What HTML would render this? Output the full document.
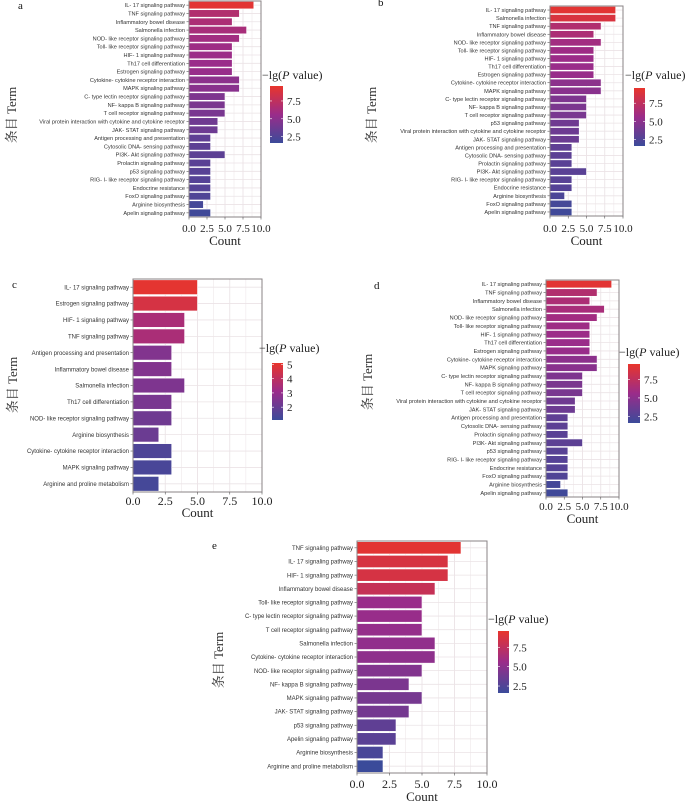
<!DOCTYPE html>
<html><head><meta charset="utf-8">
<style>
html,body{margin:0;padding:0;background:#fff;}
svg{display:block;}
</style></head>
<body>
<svg id="chart" width="700" height="802" viewBox="0 0 700 802" xmlns="http://www.w3.org/2000/svg">
<defs>
<linearGradient id="cbgrad" x1="0" y1="1" x2="0" y2="0">
<stop offset="0" stop-color="#3b4b9a"/>
<stop offset="0.5" stop-color="#9a2c8a"/>
<stop offset="1" stop-color="#e8352c"/>
</linearGradient>
</defs>
</svg>
<script>
// ---- data ----
const termsA = ["IL- 17 signaling pathway","TNF signaling pathway","Inflammatory bowel disease","Salmonella infection","NOD- like receptor signaling pathway","Toll- like receptor signaling pathway","HIF- 1 signaling pathway","Th17 cell differentiation","Estrogen signaling pathway","Cytokine- cytokine receptor interaction","MAPK signaling pathway","C- type lectin receptor signaling pathway","NF- kappa B signaling pathway","T cell receptor signaling pathway","Viral protein interaction with cytokine and cytokine receptor","JAK- STAT signaling pathway","Antigen processing and presentation","Cytosolic DNA- sensing pathway","PI3K- Akt signaling pathway","Prolactin signaling pathway","p53 signaling pathway","RIG- I- like receptor signaling pathway","Endocrine resistance","FoxO signaling pathway","Arginine biosynthesis","Apelin signaling pathway"];
const countsA = [9,7,6,8,7,6,6,6,6,7,7,5,5,5,4,4,3,3,5,3,3,3,3,3,2,3];
const pvalA = [9.3,6.8,6.5,6.3,6.0,5.8,5.7,5.6,5.5,5.0,4.9,4.4,4.3,4.2,3.8,3.7,3.1,3.0,3.0,2.9,2.8,2.7,2.7,2.5,2.0,1.8];

const termsB = ["IL- 17 signaling pathway","Salmonella infection","TNF signaling pathway","Inflammatory bowel disease","NOD- like receptor signaling pathway","Toll- like receptor signaling pathway","HIF- 1 signaling pathway","Th17 cell differentiation","Estrogen signaling pathway","Cytokine- cytokine receptor interaction","MAPK signaling pathway","C- type lectin receptor signaling pathway","NF- kappa B signaling pathway","T cell receptor signaling pathway","p53 signaling pathway","Viral protein interaction with cytokine and cytokine receptor","JAK- STAT signaling pathway","Antigen processing and presentation","Cytosolic DNA- sensing pathway","Prolactin signaling pathway","PI3K- Akt signaling pathway","RIG- I- like receptor signaling pathway","Endocrine resistance","Arginine biosynthesis","FoxO signaling pathway","Apelin signaling pathway"];
const countsB = [9,9,7,6,7,6,6,6,6,7,7,5,5,5,4,4,4,3,3,3,5,3,3,2,3,3];
const pvalB = [9.3,8.8,6.8,6.5,6.0,5.8,5.7,5.6,5.5,5.0,4.9,4.4,4.3,4.2,3.8,3.7,3.6,3.1,3.0,2.9,2.9,2.8,2.7,2.3,2.0,1.8];

const termsC = ["IL- 17 signaling pathway","Estrogen signaling pathway","HIF- 1 signaling pathway","TNF signaling pathway","Antigen processing and presentation","Inflammatory bowel disease","Salmonella infection","Th17 cell differentiation","NOD- like receptor signaling pathway","Arginine biosynthesis","Cytokine- cytokine receptor interaction","MAPK signaling pathway","Arginine and proline metabolism"];
const countsC = [5,5,4,4,3,3,4,3,3,2,3,3,2];
const pvalC = [5.0,4.6,3.5,3.5,2.6,2.6,2.5,2.4,2.2,2.1,1.5,1.4,1.3];

const termsD = ["IL- 17 signaling pathway","TNF signaling pathway","Inflammatory bowel disease","Salmonella infection","NOD- like receptor signaling pathway","Toll- like receptor signaling pathway","HIF- 1 signaling pathway","Th17 cell differentiation","Estrogen signaling pathway","Cytokine- cytokine receptor interaction","MAPK signaling pathway","C- type lectin receptor signaling pathway","NF- kappa B signaling pathway","T cell receptor signaling pathway","Viral protein interaction with cytokine and cytokine receptor","JAK- STAT signaling pathway","Antigen processing and presentation","Cytosolic DNA- sensing pathway","Prolactin signaling pathway","PI3K- Akt signaling pathway","p53 signaling pathway","RIG- I- like receptor signaling pathway","Endocrine resistance","FoxO signaling pathway","Arginine biosynthesis","Apelin signaling pathway"];
const countsD = [9,7,6,8,7,6,6,6,6,7,7,5,5,5,4,4,3,3,3,5,3,3,3,3,2,3];
const pvalD = [9.3,6.8,6.5,6.3,6.0,5.8,5.7,5.6,5.5,5.0,4.9,4.4,4.3,4.2,3.8,3.7,3.1,3.0,2.9,3.0,2.8,2.7,2.7,2.5,2.0,1.8];

const termsE = ["TNF signaling pathway","IL- 17 signaling pathway","HIF- 1 signaling pathway","Inflammatory bowel disease","Toll- like receptor signaling pathway","C- type lectin receptor signaling pathway","T cell receptor signaling pathway","Salmonella infection","Cytokine- cytokine receptor interaction","NOD- like receptor signaling pathway","NF- kappa B signaling pathway","MAPK signaling pathway","JAK- STAT signaling pathway","p53 signaling pathway","Apelin signaling pathway","Arginine biosynthesis","Arginine and proline metabolism"];
const countsE = [8,7,7,6,5,5,5,6,6,5,4,5,4,3,3,2,2];
const pvalE = [9.3,8.7,8.6,7.8,5.6,5.5,5.4,5.2,5.1,4.6,4.3,4.1,4.0,3.1,2.9,2.2,1.6];

const xTicks = [0, 2.5, 5, 7.5, 10];
const xTickLabels = ["0.0","2.5","5.0","7.5","10.0"];
const cbTicksBig = [2.5, 5.0, 7.5];
const cbTickLabelsBig = ["2.5","5.0","7.5"];
const cbTicksC = [2, 3, 4, 5];
const cbTickLabelsC = ["2","3","4","5"];

// ---- drawing ----
const NS = "http://www.w3.org/2000/svg";
const svg = document.getElementById("chart");
function mk(tag, attrs, parent){
  const e = document.createElementNS(NS, tag);
  for (const k in attrs) e.setAttribute(k, attrs[k]);
  (parent||svg).appendChild(e);
  return e;
}
function lerp(a,b,t){return a+(b-a)*t;}
function hex(c){return [parseInt(c.substr(1,2),16),parseInt(c.substr(3,2),16),parseInt(c.substr(5,2),16)];}
const cLow=hex("#3b4b9a"), cMid=hex("#9a2c8a"), cHigh=hex("#e8352c");
function colorFor(v, vmin, vmax){
  let t=(v-vmin)/(vmax-vmin); t=Math.max(0,Math.min(1,t));
  let a,b,u;
  if(t<0.5){a=cLow;b=cMid;u=t/0.5;}else{a=cMid;b=cHigh;u=(t-0.5)/0.5;}
  return "rgb("+Math.round(lerp(a[0],b[0],u))+","+Math.round(lerp(a[1],b[1],u))+","+Math.round(lerp(a[2],b[2],u))+")";
}

function drawPanel(p){
  const g = mk("g", {});
  
  
  const xScale = v => p.x0 + (v/10)*(p.x1-p.x0);
  const n = p.terms.length;
  const band = (p.y1-p.y0)/n;
  const yPos = i => p.y0 + i*band;
  // background + grid
  mk("rect",{x:p.x0,y:p.y0,width:p.x1-p.x0,height:p.y1-p.y0,fill:"#fff"},g);
  const grid = mk("g",{},g);
  
  
  for(let v=0; v<=10; v+=1.25){
    const x=xScale(v);
    mk("line",{x1:x,x2:x,y1:p.y0,y2:p.y1,stroke:"#ebe3e6","stroke-width":v%2.5===0?0.9:0.5},grid);
  }
  for(let i=0;i<n;i++){
    const y=yPos(i)+band/2;
    mk("line",{x1:p.x0,x2:p.x1,y1:y,y2:y,stroke:"#ebe3e6","stroke-width":0.8},grid);
  }
  // bars
  for(let i=0;i<n;i++){
    const r = mk("rect",{x:xScale(0),y:yPos(i)+band*0.05,width:xScale(p.counts[i])-xScale(0),height:band*0.9,fill:colorFor(p.pvals[i],p.cbMin,p.cbMax),stroke:"#fff","stroke-width":0.6},g);
    
    
    const t = mk("text",{x:p.x0-4,y:yPos(i)+band/2+p.fs*0.36,"text-anchor":"end","font-family":"Liberation Sans, sans-serif","font-size":p.fs,fill:"#333"},g);
    t.textContent = p.terms[i];
    
    
    mk("line",{x1:p.x0-2.5,x2:p.x0,y1:yPos(i)+band/2,y2:yPos(i)+band/2,stroke:"#555","stroke-width":0.6},g);
  }
  // border
  mk("rect",{x:p.x0,y:p.y0,width:p.x1-p.x0,height:p.y1-p.y0,fill:"none",stroke:"#8a8386","stroke-width":1},g);
  // x ticks
  for(let k=0;k<xTicks.length;k++){
    const x=xScale(xTicks[k]);
    mk("line",{x1:x,x2:x,y1:p.y1,y2:p.y1+2.5,stroke:"#555","stroke-width":0.6},g);
    const t=mk("text",{x:x,y:p.tickY,"text-anchor":"middle","font-family":"Liberation Serif, serif","font-size":p.tfs,fill:"#222"},g);
    t.textContent=xTickLabels[k];
    
    
  }
  if(p.countY){
    const c=mk("text",{x:(p.x0+p.x1)/2,y:p.countY,"text-anchor":"middle","font-family":"Liberation Serif, serif","font-size":13,fill:"#222"},g);
    c.textContent="Count";
    
    
  }
  // y title
  const yt=mk("text",{x:0,y:0,transform:"translate("+p.termX+","+p.termY+") rotate(-90)","text-anchor":"middle","font-family":"Liberation Serif, Noto Serif CJK SC, serif","font-size":13,fill:"#333"},g);
  yt.textContent="条目 Term";
  
  
  // panel letter
  const lt=mk("text",{x:p.lx,y:p.ly,"font-family":"Liberation Serif, serif","font-size":11,fill:"#111"},g);
  lt.textContent=p.letter;
  
  
  // legend
  const lg=mk("g",{},g);
  
  
  const ttl=mk("text",{x:p.legX,y:p.legY,"font-family":"Liberation Serif, serif","font-size":12,fill:"#222"},lg);
  ttl.innerHTML='−lg(<tspan font-style="italic">P</tspan> value)';
  
  
  mk("rect",{x:p.cbx0,y:p.cby0,width:p.cbx1-p.cbx0,height:p.cby1-p.cby0,fill:"url(#cbgrad)"},lg);
  const cbS = v => p.cby1 - (v-p.cbMin)/(p.cbMax-p.cbMin)*(p.cby1-p.cby0);
  for(let k=0;k<p.cbTicks.length;k++){
    const y=cbS(p.cbTicks[k]);
    mk("line",{x1:p.cbx0,x2:p.cbx0+2,y1:y,y2:y,stroke:"#fff","stroke-width":0.6},lg);
    mk("line",{x1:p.cbx1-2,x2:p.cbx1,y1:y,y2:y,stroke:"#fff","stroke-width":0.6},lg);
    const t=mk("text",{x:p.cbx1+4,y:y+4,"font-family":"Liberation Serif, serif","font-size":11,fill:"#222"},lg);
    t.textContent=p.cbLabels[k];
    
    
  }
}

drawPanel({letter:"a",terms:termsA,counts:countsA,pvals:pvalA,x0:189,x1:261,y0:1,y1:217,fs:5.6,tfs:11,tickY:232,countY:245,termX:16,termY:115,lx:18,ly:9,legX:262,legY:79,cbx0:270,cbx1:283,cby0:86,cby1:143,cbMin:1.6,cbMax:9.6,cbTicks:cbTicksBig,cbLabels:cbTickLabelsBig});
drawPanel({letter:"b",terms:termsB,counts:countsB,pvals:pvalB,x0:550,x1:623,y0:6,y1:216,fs:5.6,tfs:11,tickY:232,countY:245,termX:376,termY:115,lx:378,ly:6,legX:625,legY:79,cbx0:634,cbx1:645,cby0:88,cby1:146,cbMin:1.6,cbMax:9.6,cbTicks:cbTicksBig,cbLabels:cbTickLabelsBig});
drawPanel({letter:"c",terms:termsC,counts:countsC,pvals:pvalC,x0:133,x1:262,y0:279,y1:492,fs:6,tfs:12,tickY:505,countY:517,termX:17,termY:385,lx:12,ly:288,legX:259,legY:352,cbx0:272,cbx1:283,cby0:363,cby1:420,cbMin:1.1,cbMax:5.1,cbTicks:cbTicksC,cbLabels:cbTickLabelsC});
drawPanel({letter:"d",terms:termsD,counts:countsD,pvals:pvalD,x0:546,x1:619,y0:280,y1:497,fs:5.6,tfs:11,tickY:510,countY:523,termX:372,termY:382,lx:374,ly:289,legX:619,legY:356,cbx0:628,cbx1:640,cby0:364,cby1:423,cbMin:1.6,cbMax:9.6,cbTicks:cbTicksBig,cbLabels:cbTickLabelsBig});
drawPanel({letter:"e",terms:termsE,counts:countsE,pvals:pvalE,x0:357,x1:487,y0:541,y1:773,fs:6,tfs:12,tickY:788,countY:801,termX:223,termY:660,lx:212,ly:549,legX:488,legY:623,cbx0:498,cbx1:509,cby0:631,cby1:693,cbMin:1.6,cbMax:9.6,cbTicks:cbTicksBig,cbLabels:cbTickLabelsBig});
</script>
</body></html>
